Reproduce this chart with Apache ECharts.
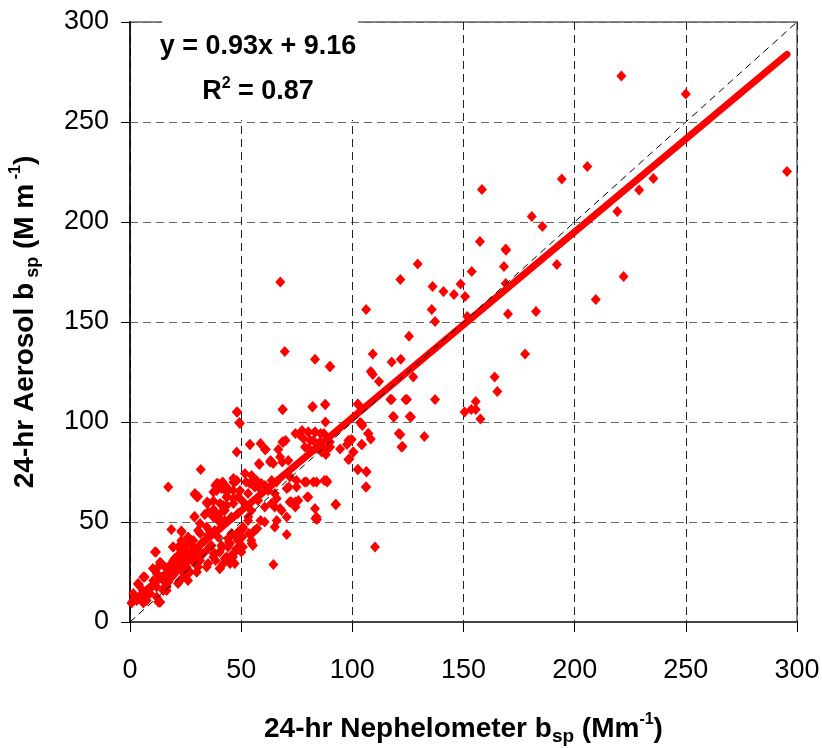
<!DOCTYPE html>
<html>
<head>
<meta charset="utf-8">
<title>Aerosol vs Nephelometer bsp</title>
<script src="https://cdn.jsdelivr.net/npm/echarts@6/dist/echarts.min.js"></script>
<style>
  html, body { margin: 0; padding: 0; background: #fff; }
  #main { width: 822px; height: 748px; }
</style>
</head>
<body>
<div id="main"></div>
<script>
// 24-hr nephelometer bsp (x) vs 24-hr aerosol bsp (y), both Mm-1
var points = [
  [221, 273], [250, 264], [295.5, 225.3], [235.4, 221.7], [229, 216], [219.2, 205.3], [222, 172.8],
  [205.7, 227.8], [194.2, 221.5], [158.3, 216.3], [180.7, 202.7], [185.5, 197.8], [157.4, 190.3],
  [169, 186.5], [169.1, 185.9], [168.2, 177.7], [153.7, 175.2], [192, 178.8], [209.5, 161.3], [169, 169.2],
  [148.7, 169], [136.1, 167.8], [141, 165.2], [145.7, 163.8], [150.7, 162.8], [170, 154], [182.6, 155.3],
  [135.7, 156.3], [137.2, 150.2], [151.7, 152.8], [106.2, 156.3], [129.4, 179], [121.6, 171.3],
  [125.5, 142.9], [109.2, 134], [117.7, 130], [121.8, 131.4], [177.7, 134], [108.3, 125.2], [109.2, 123.7],
  [112, 120.2], [127.4, 122.5], [164, 122.5], [165.2, 115.2], [117.7, 111.3], [124.6, 111.3], [137.2, 111.3],
  [155.5, 110.2], [150.5, 105], [153.5, 106.3], [155.5, 106.3], [157.6, 101.5], [118.7, 102.5], [126.4, 102.5],
  [102.4, 109], [103.5, 99.8], [104.5, 98.3], [121.6, 93.8], [132.4, 92.7], [122.6, 87.7], [107.2, 94.2],
  [108.3, 91.5], [104.4, 88.8], [99.7, 91.2], [97.6, 88.7], [94.5, 86.5], [100.5, 85], [98.7, 81.5],
  [90.1, 127.8], [67.6, 170], [69.6, 135.2], [83.2, 131.4], [89.8, 127.7], [68.7, 106.2], [82.2, 107.7],
  [87.9, 108.8], [106.3, 75.2], [102.4, 76.3], [110.2, 37.5], [106.2, 67.5],
  [17.2, 67.5], [31.8, 76.3], [48, 105], [49.2, 99.8], [48, 85], [54, 88.8], [64.5, 28.8], [70.5, 43.8],
  [84.1, 51.3], [92.7, 58.7], [13.5, 10], [11.7, 35], [4, 18.8],
  [29.1, 63.8], [30.6, 62.8], [38.4, 68.3], [39.6, 69.2], [43.6, 67.2], [43.6, 62.8], [47.1, 70],
  [35.1, 59.5], [35.1, 55], [37.6, 56.2], [29.1, 52.8], [33.6, 53.8], [38.1, 54.2], [42.6, 55.8],
  [18.6, 46.2], [23.1, 45.5], [30.6, 45.8], [31.6, 44.2], [35.8, 45.5], [19.3, 37.5], [23.1, 38.3],
  [25.3, 35.8], [40.3, 35], [42.6, 31.7], [46.3, 32.5], [44.1, 41.7], [40.3, 26.7], [48.6, 45], [50.8, 47.5],
  [53.1, 50.8], [56.1, 45.8], [54.6, 40.8], [55.3, 38.3], [60.6, 50], [65.1, 57.5], [65.1, 47.5],
  [50.8, 37.5], [50.1, 35], [47.1, 29.2], [14.1, 29.2], [10.3, 26.7], [6.6, 22.5], [3.6, 19.2], [5.8, 15.8],
  [8.1, 14.2], [13.4, 10], [2.1, 11.7],
  [14.1, 22.5], [17.1, 20.8], [20.1, 24.2], [23.1, 25.8], [21.6, 19.2], [15.6, 17.5], [26.1, 30.8],
  [29.1, 32.5], [32.1, 34.2], [35.1, 29.2], [26.1, 20.8], [18.6, 29.2], [24.6, 27.5], [17.1, 26.7],
  [20.1, 31.7], [23.1, 34.2], [28.3, 37.5], [33.6, 40.8], [36.6, 38.3], [39.6, 42.5], [30.6, 27.5],
  [38.1, 34.2], [41.1, 38.3], [44.1, 37.5], [45.6, 44.2], [48.6, 40.8], [41.1, 47.5], [38.1, 45.8],
  [35.1, 43.3], [32.1, 39.2], [27.6, 40.8], [26.1, 42.5], [23.1, 40.8], [21.6, 33.3],
  [53.1, 64.2], [56.1, 67.5], [59.1, 69.2], [62.1, 65.8], [51.6, 59.2], [54.6, 55.8], [57.6, 60.8],
  [60.6, 57.5], [63.6, 59.2], [45.6, 52.5], [42.6, 50.8], [39.6, 52.5], [48.6, 54.2], [65.1, 64.2],
  [87.9, 100], [76.2, 93.8], [80.2, 95], [83.2, 95], [87.2, 94.2], [60.9, 86.3], [66.7, 86.3], [69, 90],
  [67.5, 82.5], [71.2, 80.8], [63, 80], [58.2, 78.8], [78, 91.7], [78.7, 87.5], [82.5, 90.8], [85.5, 90],
  [88.5, 86.3], [98.2, 90.8], [90, 87.5], [51.7, 74.2], [54.7, 73.3], [56.9, 70.8], [53.9, 69.2],
  [57.7, 67.5], [60.7, 68.3], [46.5, 71.7], [48, 70.8], [41.7, 70], [38.7, 68.3], [39, 65.8], [43.5, 62.5],
  [37.5, 65], [46.5, 65.8], [49.5, 65.8], [46.5, 59.2], [49.5, 61.7], [42, 58.3], [74.9, 67.5], [79.4, 70],
  [83.9, 70], [88.4, 70.8], [80.2, 62.5], [72.7, 60], [75.7, 60.8], [67.5, 56.7], [70.5, 52.5], [83.9, 52.5],
  [66, 61.7], [70.5, 66.7], [63.7, 70.8], [72, 72.5],
  [29.2, 64.2], [30.2, 62.5], [34.7, 60], [52.2, 70], [58, 79.2], [64.4, 79.2], [68.5, 80], [58.7, 89.2],
  [61, 86.2], [63.2, 80.8], [68.5, 90], [70, 90.8], [65.9, 70], [71.4, 67.5], [72.2, 60], [74.4, 94.2],
  [77.4, 95.8], [81.1, 90.8], [80.4, 86.7], [83.4, 86.7], [86.4, 87.5], [87.4, 70.8], [82.5, 70],
  [83.2, 56.7], [74.4, 57.5], [66, 50.8], [68.2, 55.8], [58.7, 50.8], [57.2, 46.7], [53.5, 44.2],
  [50.5, 42.5], [47.5, 42.5], [44.5, 40], [41.5, 37.5], [37.7, 34.2], [38.5, 30.8], [43.5, 32.5],
  [46.5, 34.2], [48, 36.7], [42, 29.2], [34.5, 27.5], [30, 25], [24.7, 23.3], [21, 27.5], [18.7, 22.5],
  [15, 20.8], [12, 17.5], [9, 14.2], [6, 12.5], [3, 10.8], [16.5, 15.8], [12.7, 10],
  [28.9, 52.5], [31.5, 49.2], [34.5, 47.5], [37.5, 52.5], [39.7, 50.8], [41.2, 55], [40.5, 59.2],
  [37.5, 60.5], [34.5, 59.5], [43.5, 58.3], [43.5, 62.5], [46.5, 61.7], [48.7, 62.5], [46.5, 70],
  [39, 69.2], [41.2, 66.7], [43.5, 65], [49.4, 99.2], [48.3, 105], [53.9, 88.8], [60.7, 86.2], [68.9, 90],
  [68.6, 106.2], [82, 107.5], [87.7, 108.8], [80.2, 95], [83.2, 95], [85.7, 94.2], [89.9, 90], [86.2, 85],
  [88.1, 83.7], [92.4, 58.8], [88.7, 70], [83.4, 51.7], [79.7, 62.5], [78.5, 70], [74.9, 70.8],
  [71.8, 60], [74.4, 60], [98.9, 90.8], [98.2, 81.2], [100.4, 85], [102.6, 76.2], [106.4, 75],
  [106.1, 67.5], [102.6, 108.8], [104.1, 99.2], [104.1, 88.7], [107.1, 94.2], [117.1, 111.2],
  [118.3, 102.8], [120.9, 94.2], [122.1, 87.5], [123.9, 111.2], [125.8, 102.8],
  [11.2, 35], [13.5, 29.9], [12, 24.2], [6, 22.5], [3.75, 18.8], [1.5, 14.2], [0.7, 9.5], [7.5, 10.8],
  [6, 9.5], [13.5, 10], [12, 12.5], [17.2, 20], [19.5, 37.5], [21.7, 37.5], [23.2, 45], [22.5, 34.2],
  [24.7, 34.2], [25.5, 27.5], [27, 25], [30, 25], [19.5, 30.8], [22.5, 20.8], [18.7, 22.5], [16.5, 17.5],
  [15, 15.8], [9.7, 17.5], [10.5, 20.8], [12.7, 27.5], [15.7, 27.5], [19.5, 26.7], [22.5, 27.5],
  [28.5, 30], [31.5, 30.8], [30, 35.8], [25.5, 39.2], [28.5, 40.8], [33, 34.2], [35.2, 36.7], [37.5, 32.5],
  [40.5, 26.7], [45, 29.2], [46.5, 34.2], [45, 39.2], [50.2, 37.5], [54.7, 39.2], [55.5, 45], [53.2, 52.5],
  [50.9, 46.7]
];

// fitted line y = 0.93x + 9.16, end points as drawn
var fitLine = [[0.5, 9.6], [295.5, 283.8]];
// 1:1 reference line
var oneToOne = [[0, 0], [300, 300]];

var fitText = 'y = 0.93x + 9.16';
var r2Text = '0.87';

var axisMin = 0, axisMax = 300, axisStep = 50;

var narrow = "'Liberation Sans Narrow', 'Liberation Sans', Arial, sans-serif";

var myChart = echarts.init(document.getElementById('main'));

var option = {
  backgroundColor: '#fff',
  animation: false,
  grid: {
    left: 130, right: 25, top: 22, bottom: 126,
    outerBoundsMode: 'none', containLabel: false,
    show: true, borderColor: '#888', borderWidth: 2, backgroundColor: 'transparent'
  },
  xAxis: {
    type: 'value', min: axisMin, max: axisMax, interval: axisStep,
    axisLine: { onZero: false, lineStyle: { color: '#444', width: 2 } },
    axisTick: { show: true, length: 10, lineStyle: { color: '#000' } },
    axisLabel: { fontFamily: narrow, fontSize: 27, color: '#000', margin: 35 },
    splitLine: { show: true, lineStyle: { color: '#222', type: [8, 5], width: 1 } },
    name: '{a|24-hr Nephelometer b}{s|sp}{a| (Mm}{p|-1}{a|)}',
    nameLocation: 'middle', nameGap: 90,
    nameTextStyle: {
      rich: {
        a: { fontFamily: narrow, fontWeight: 'bold', fontSize: 28, color: '#000', lineHeight: 34 },
        s: { fontFamily: narrow, fontWeight: 'bold', fontSize: 19, color: '#000', lineHeight: 18, verticalAlign: 'bottom' },
        p: { fontFamily: narrow, fontWeight: 'bold', fontSize: 16, color: '#000', lineHeight: 14, verticalAlign: 'top' }
      }
    }
  },
  yAxis: {
    type: 'value', min: axisMin, max: axisMax, interval: axisStep,
    axisLine: { onZero: false, lineStyle: { color: '#000', width: 1.5 } },
    axisTick: { show: true, length: 9, lineStyle: { color: '#000' } },
    axisLabel: { fontFamily: narrow, fontSize: 27, color: '#000', margin: 21 },
    splitLine: { show: true, lineStyle: { color: '#666', type: [8, 5], width: 1 } },
    name: '{a|24-hr Aerosol b}{s| sp}{a| (M m}{p| -1}{a|)}',
    nameLocation: 'middle', nameGap: 88, nameRotate: 90,
    nameTextStyle: {
      rich: {
        a: { fontFamily: narrow, fontWeight: 'bold', fontSize: 28, color: '#000', lineHeight: 34 },
        s: { fontFamily: narrow, fontWeight: 'bold', fontSize: 18, color: '#000', lineHeight: 18, verticalAlign: 'bottom' },
        p: { fontFamily: narrow, fontWeight: 'bold', fontSize: 16, color: '#000', lineHeight: 14, verticalAlign: 'top' }
      }
    }
  },
  graphic: [
    { type: 'rect', z: 50, shape: { x: 162, y: 8, width: 196, height: 112 }, style: { fill: '#fff' } },
    {
      type: 'text', z: 51, x: 258, y: 47,
      style: { text: fitText, font: 'bold 27px ' + narrow, fill: '#000', align: 'center', verticalAlign: 'middle' }
    },
    {
      type: 'text', z: 51, x: 258, y: 92,
      style: {
        text: '{t|R}{p|2}{t| = ' + r2Text + '}', align: 'center', verticalAlign: 'middle',
        rich: {
          t: { font: 'bold 27px ' + narrow, fill: '#000', lineHeight: 32 },
          p: { font: 'bold 16px ' + narrow, fill: '#000', lineHeight: 14, verticalAlign: 'top' }
        }
      }
    }
  ],
  series: [
    {
      type: 'scatter', data: points, symbol: 'diamond', symbolSize: [10, 11],
      itemStyle: { color: '#ff0000', opacity: 1 }, z: 2
    },
    {
      type: 'line', data: fitLine, symbol: 'none',
      lineStyle: { color: '#ff0000', width: 7, cap: 'round' }, z: 3
    },
    {
      type: 'line', data: oneToOne, symbol: 'none',
      lineStyle: { color: '#000', width: 1, type: [7, 5] }, z: 4
    }
  ]
};

myChart.setOption(option);
</script>
</body>
</html>
